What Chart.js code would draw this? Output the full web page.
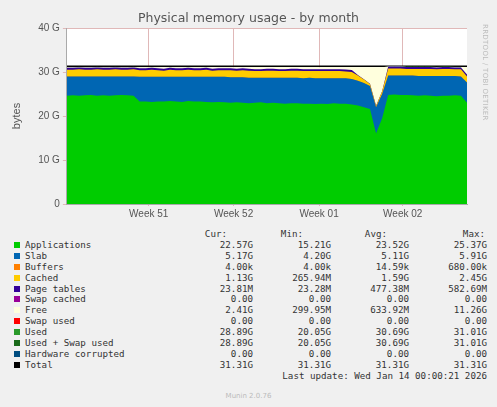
<!DOCTYPE html>
<html><head><meta charset="utf-8">
<script src="https://cdn.jsdelivr.net/npm/chart.js@4"></script>
<style>
body{margin:0;background:#f0f0f0;width:497px;height:407px;overflow:hidden;font-family:"DejaVu Sans",sans-serif;position:relative}
#wrap{position:absolute;left:0;top:0;width:497px;height:222px}
#title{position:absolute;top:10px;width:497px;text-align:center;font-size:12.5px;color:#555}
#side{position:absolute;left:481px;top:24px;writing-mode:vertical-rl;font-size:7px;color:#bbb;letter-spacing:.3px}
#leg{position:absolute;left:0;top:226px;width:497px;height:160px;font-family:"DejaVu Sans Mono",monospace;font-size:9.2px;color:#333}
.r{position:absolute;white-space:pre;height:11px}
.sq{position:absolute;width:6px;height:6px;left:14px;top:3px}
#foot{position:absolute;top:392px;width:497px;text-align:center;font-size:7px;color:#bbb}
</style></head><body>
<div id="wrap"><canvas id="c" width="497" height="222"></canvas></div>
<div id="title">Physical memory usage - by month</div>
<div id="side">RRDTOOL / TOBI OETIKER</div>
<div id="leg"></div>
<div id="foot">Munin 2.0.76</div>
<script>
// values in GB, one point every ~12h
const total = 31.31;
const apps = [24.6,24.7,24.6,24.7,24.8,24.6,24.7,24.6,24.7,24.8,24.7,24.6,
  23.3,23.3,23.2,23.3,23.3,23.4,23.3,23.2,23.4,23.3,23.3,23.2,23.1,23.2,23.1,23.0,23.1,23.0,
  22.9,23.0,23.1,22.9,23.0,22.9,22.8,22.9,22.9,22.8,22.8,22.7,22.8,22.7,22.9,22.8,22.8,22.6,
  22.4,22.0,21.6,16.0,19.5,24.8,24.9,24.8,24.8,24.7,24.6,24.7,24.6,24.5,24.6,24.6,24.7,24.6,23.0];
const slab = [4.4,4.3,4.4,4.3,4.2,4.4,4.3,4.4,4.3,4.2,4.3,4.4,
  5.6,5.6,5.7,5.6,5.6,5.5,5.6,5.7,5.5,5.6,5.6,5.7,5.8,5.7,5.8,5.8,5.7,5.8,
  5.8,5.7,5.6,5.8,5.7,5.8,5.9,5.8,5.8,5.8,5.9,5.9,5.8,5.9,5.7,5.8,5.8,5.8,
  5.6,5.5,5.2,6.0,5.5,4.4,4.3,4.4,4.4,4.5,4.5,4.4,4.5,4.6,4.5,4.5,4.4,4.4,4.6];
const buffers = new Array(67).fill(0.0);
const cached = [1.5,1.5,1.6,1.5,1.5,1.6,1.5,1.5,1.6,1.5,1.5,1.6,
  1.5,1.5,1.6,1.5,1.4,1.6,1.5,1.5,1.6,1.5,1.5,1.6,1.4,1.5,1.5,1.6,1.5,1.6,
  1.6,1.5,1.5,1.6,1.6,1.5,1.5,1.6,1.6,1.6,1.5,1.6,1.6,1.6,1.6,1.6,1.5,1.6,
  1.2,0.8,0.5,0.3,0.6,1.6,1.6,1.6,1.5,1.5,1.6,1.6,1.6,1.5,1.6,1.6,1.5,1.6,1.4];
const pageTables = [0.45,0.45,0.45,0.45,0.45,0.45,0.45,0.45,0.45,0.45,0.45,0.45,
  0.45,0.45,0.45,0.45,0.45,0.45,0.45,0.45,0.45,0.45,0.45,0.45,0.45,0.45,0.45,0.45,0.45,0.45,
  0.45,0.45,0.45,0.45,0.45,0.45,0.45,0.45,0.45,0.45,0.45,0.45,0.45,0.45,0.45,0.45,0.45,0.45,
  0.1,0.05,0.05,0.05,0.05,0.45,0.45,0.45,0.45,0.45,0.45,0.45,0.45,0.45,0.45,0.45,0.45,0.45,0.45];
const weekLabels = ["Week 51","Week 52","Week 01","Week 02"];
const weekPos = [13.5,27.5,41.6,55.4];

const G = 1e9;
const used = apps.map((a,i)=>a+slab[i]+buffers[i]+cached[i]+pageTables[i]);
const free = used.map(u=>Math.max(total-u-0.25,0));
const pts = arr => arr.map((v,i)=>({x:i,y:v*G}));
const area = (label,arr,col)=>({label,data:pts(arr),backgroundColor:col,borderWidth:0,fill:true,pointRadius:0,stack:'s',tension:0});

const plotBg = {id:'plotBg',beforeDraw(ch){const a=ch.chartArea,c=ch.ctx;c.save();c.fillStyle='#fff';c.fillRect(a.left,a.top,a.right-a.left,a.bottom-a.top);c.restore();}};

new Chart(document.getElementById('c'),{
  type:'line',
  plugins:[plotBg],
  data:{datasets:[
    area('Applications',apps,'#00cc00'),
    area('Slab',slab,'#0066b3'),
    area('Buffers',buffers,'#ff8000'),
    area('Cached',cached,'#ffcc00'),
    area('Page tables',pageTables,'#330099'),
    area('Free',free,'#ffffdd'),
    {label:'Used + Swap used',data:pts(used),borderColor:'#2a7a2a',borderWidth:1,pointRadius:0,fill:false,stack:'u'},
    {label:'Total',data:pts(used.map(()=>total)),borderColor:'#000',borderWidth:1.5,pointRadius:0,fill:false,stack:'t'}
  ]},
  options:{animation:false,responsive:false,
    layout:{padding:{left:6,right:30,top:28,bottom:0}},
    plugins:{legend:{display:false},tooltip:{enabled:false}},
    scales:{
      x:{type:'linear',min:0,max:66,
        afterBuildTicks:a=>{a.ticks=weekPos.map(v=>({value:v}));},
        ticks:{color:'#555',font:{size:10},maxRotation:0,autoSkip:false,padding:2,callback:(v,i)=>weekLabels[i]},
        grid:{color:'#e0b8b8',tickLength:2},border:{color:'#aaa'}},
      y:{stacked:true,min:0,max:40*G,
        afterBuildTicks:a=>{a.ticks=[0,10,20,30,40].map(v=>({value:v*G}));},
        ticks:{color:'#555',font:{size:10},callback:v=>v===0?'0':(v/G)+' G'},
        title:{display:true,text:'bytes',color:'#555',font:{size:11},padding:{bottom:12}},
        grid:{color:'#e0b8b8',tickLength:4},border:{color:'#aaa'}}
    }}
});

const rows = [
 ['#00cc00','Applications','22.57G','15.21G','23.52G','25.37G'],
 ['#0066b3','Slab','5.17G','4.20G','5.11G','5.91G'],
 ['#ff8000','Buffers','4.00k','4.00k','14.59k','680.00k'],
 ['#ffcc00','Cached','1.13G','265.94M','1.59G','2.45G'],
 ['#330099','Page tables','23.81M','23.28M','477.38M','582.69M'],
 ['#990099','Swap cached','0.00','0.00','0.00','0.00'],
 ['#ffffdd','Free','2.41G','299.95M','633.92M','11.26G'],
 ['#ff0000','Swap used','0.00','0.00','0.00','0.00'],
 ['#2a9a2a','Used','28.89G','20.05G','30.69G','31.01G'],
 ['#1a6a1a','Used + Swap used','28.89G','20.05G','30.69G','31.01G'],
 ['#004d80','Hardware corrupted','0.00','0.00','0.00','0.00'],
 ['#000000','Total','31.31G','31.31G','31.31G','31.31G']
];
const leg = document.getElementById('leg');
function cell(txt,right,top){const d=document.createElement('div');d.className='r';d.textContent=txt;d.style.top=top+'px';d.style.right=(497-right)+'px';leg.appendChild(d);}
cell('Cur:',227,2);cell('Min:',303,2);cell('Avg:',387,2);cell('Max:',485,2);
rows.forEach((r,i)=>{
  const top=2+(i+1)*10.9;
  const s=document.createElement('div');s.className='sq';s.style.background=r[0];s.style.top=(top+3)+'px';leg.appendChild(s);
  const n=document.createElement('div');n.className='r';n.textContent=r[1];n.style.left='25px';n.style.top=top+'px';leg.appendChild(n);
  cell(r[2],253,top);cell(r[3],331,top);cell(r[4],409,top);cell(r[5],487,top);
});
cell('Last update: Wed Jan 14 00:00:21 2026',487,2+13*10.9);
</script>
</body></html>
